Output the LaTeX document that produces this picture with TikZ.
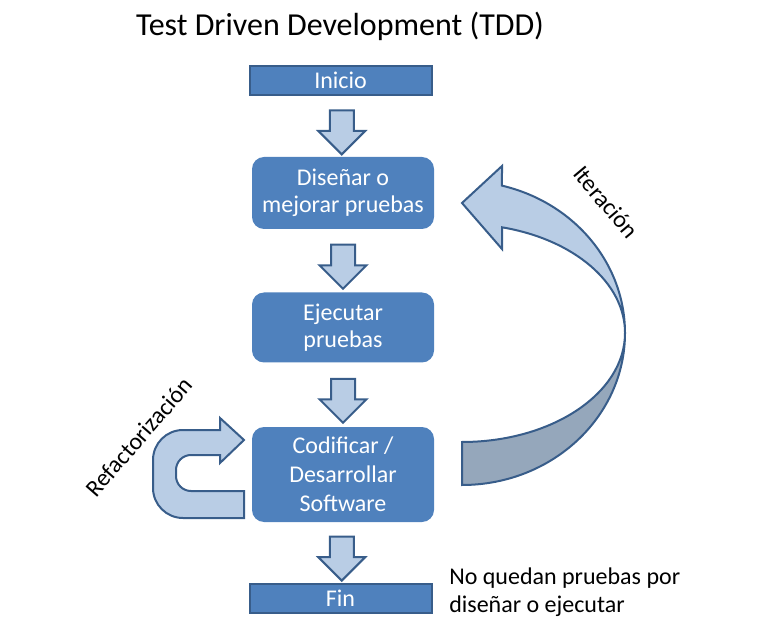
\documentclass[tikz,border=0pt]{standalone}
\usepackage{fontspec}
\setmainfont{Carlito}
\usetikzlibrary{shapes.arrows,calc}

\definecolor{boxblue}{RGB}{79,129,189}
\definecolor{boxedge}{RGB}{56,93,138}
\definecolor{arrowblue}{RGB}{185,205,229}
\definecolor{arrowgrey}{RGB}{149,167,187}

\tikzset{
  endbox/.style={draw=boxedge, line width=1.5pt, fill=boxblue, text=white, minimum width=136.5pt, minimum height=21.75pt, inner sep=0pt, font=\fontsize{18}{20.5}\selectfont},
  stepbox/.style={fill=boxblue, rounded corners=9pt, text=white, minimum width=136.5pt, align=center, inner sep=0pt, font=\fontsize{18}{20.5}\selectfont},
  downarrow/.style={single arrow, rotate=-90, draw=boxedge, line width=1.5pt, fill=arrowblue, minimum height=33pt, inner xsep=0pt, inner ysep=8.25pt, single arrow head extend=8.6pt},
  bandarrow/.style={draw=boxedge, line width=1.5pt},
  sidetext/.style={font=\fontsize{18}{20.5}\selectfont, inner sep=0pt},
}

\begin{document}
\begin{tikzpicture}[x=0.75pt,y=0.75pt,yscale=-1,xscale=1]
	\useasboundingbox (0,0) rectangle (760,634);
	
	% Text Node
	\node [font=\fontsize{24}{28}\selectfont, anchor=base] (title) at (340,36) {Test Driven Development (TDD)};
	
	%Boxes
	\node [endbox] (inicio) at (340.5,80.5) {Inicio};
	\node [stepbox, minimum height=54pt] (disenar) at (343,193) {Diseñar o\\mejorar pruebas};
	\node [stepbox, minimum height=52.5pt] (ejecutar) at (343,327.5) {Ejecutar\\pruebas};
	\node [stepbox, minimum height=71.25pt, font=\fontsize{18}{21.75}\selectfont] (codificar) at (343,474.5) {Codificar /\\Desarrollar\\Software};
	\node [endbox] (fin) at (340.5,598.5) {Fin};
	
	%Block arrows
	\node [downarrow] (a1) at ($(inicio.south)!0.5!(disenar.north)$) {};
	\node [downarrow] (a2) at ($(disenar.south)!0.5!(ejecutar.north)$) {};
	\node [downarrow] (a3) at ($(ejecutar.south)!0.5!(codificar.north)$) {};
	\node [downarrow] (a4) at ($(codificar.south)!0.5!(fin.north)$) {};
	
	%Curved arrow: lower part
	\draw [bandarrow, fill=arrowgrey] (625,333) arc[start angle=0, end angle=90, x radius=163, y radius=152] -- (462,442) arc[start angle=90, end angle=0, x radius=163, y radius=109] -- cycle ;
	%Curved arrow: upper part with head
	\draw [bandarrow, fill=arrowblue] (625,333) arc[start angle=0, end angle=-75.8, x radius=163, y radius=152] -- (502,166) -- (462,203) -- (502,249) -- (502,227.3) arc[start angle=-75.8, end angle=0, x radius=163, y radius=109] -- cycle ;
	
	%U-turn arrow
	\draw [bandarrow, fill=arrowblue] (244,440) -- (220,418) -- (220,430) -- (183,430) arc[start angle=-90, end angle=-180, radius=30] -- (153,488) arc[start angle=180, end angle=90, radius=30] -- (244,518) -- (244,491) -- (191,491) arc[start angle=90, end angle=180, radius=15] -- (176,470) arc[start angle=180, end angle=270, radius=15] -- (220,455) -- (220,463) -- cycle ;
	
	% Text Node
	\node [sidetext, rotate=-50] (iter) at (606,202) {Iteración};
	% Text Node
	\node [sidetext, rotate=49] (refac) at (139,437) {Refactorización};
	% Text Node
	\node [sidetext, anchor=north west, align=left] (nota) at (449,568) {No quedan pruebas por\\diseñar o ejecutar};
	
\end{tikzpicture}
\end{document}
